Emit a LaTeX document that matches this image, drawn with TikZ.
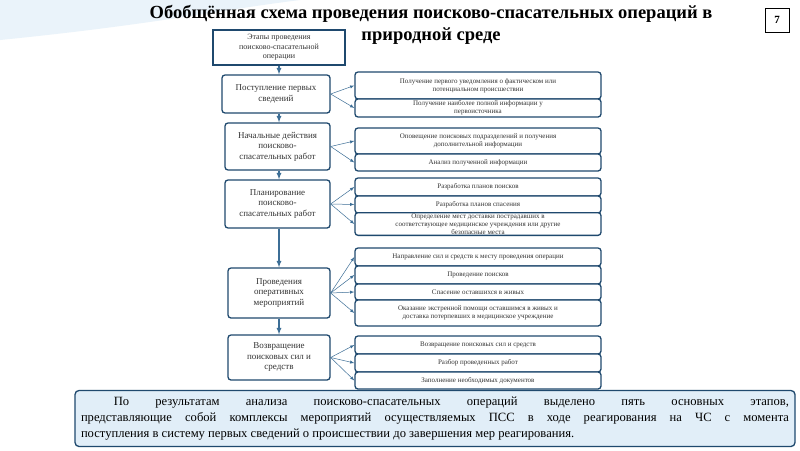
\documentclass[tikz,border=0pt]{standalone}
\usepackage{fontspec}
\setmainfont{Liberation Serif}
\begin{document}
\begin{tikzpicture}[x=1pt,y=-1pt,
  bx/.style={draw=bord,line width=1.3pt,fill=white,rounded corners=3pt,align=center,inner sep=1pt},
  lb/.style={bx,font=\fontsize{9}{10.5}\selectfont,text=black!80},
  rb/.style={bx,font=\fontsize{7}{8}\selectfont,text=black!80},
  ar/.style={draw=arr,line width=0.5pt,-latex},
  va/.style={draw=arr,line width=1.2pt,-latex}]
\definecolor{bord}{RGB}{31,73,110}
\definecolor{arr}{RGB}{60,110,150}
\definecolor{pale}{RGB}{225,238,248}
\useasboundingbox (0,0) rectangle (800,450);
\fill[white] (0,0) rectangle (800,450);
\fill[pale!70] (0,0) -- (300,0) .. controls (220,10) and (150,25) .. (0,40) -- cycle;
\node[font=\bfseries\fontsize{18.5}{20}\selectfont] (t1) at (431,14) {Обобщённая схема проведения поисково-спасательных операций в};
\node[font=\bfseries\fontsize{18.5}{20}\selectfont] (t2) at (431,36) {природной среде};
\node[draw=black,line width=1pt,minimum width=24pt,minimum height=24pt,font=\bfseries\fontsize{11}{12}\selectfont] (pg) at (777,20) {7};
% header
\node[bx,rounded corners=0pt,minimum width=132pt,minimum height=35pt,font=\fontsize{8}{9.5}\selectfont,text=black!80] (h) at (279,47.5) {Этапы проведения\\поисково-спасательной\\операции};
\node[lb,minimum width=108pt,minimum height=38pt] (a) at (276,94) {Поступление первых\\сведений};
\node[lb,minimum width=105pt,minimum height=47pt] (b) at (277.5,146.5) {Начальные действия\\поисково-\\спасательных работ};
\node[lb,minimum width=105pt,minimum height=48pt] (c) at (277.5,204) {Планирование\\поисково-\\спасательных работ};
\node[lb,minimum width=102pt,minimum height=50pt] (d) at (279,293) {Проведения\\оперативных\\мероприятий};
\node[lb,minimum width=102pt,minimum height=45pt] (e) at (279,357.5) {Возвращение\\поисковых сил и\\средств};
\draw[va] (h.south -| 279,0) -- (a.north -| 279,0);
\draw[va] (a.south -| 279,0) -- (b.north -| 279,0);
\draw[va] (b.south -| 279,0) -- (c.north -| 279,0);
\draw[va] (c.south -| 279,0) -- (d.north -| 279,0);
\draw[va] (d.south -| 279,0) -- (e.north -| 279,0);
% right
\def\rw{246pt}
\node[rb,minimum width=\rw,minimum height=27pt] (a1) at (478,85.5) {Получение первого уведомления о фактическом или\\потенциальном происшествии};
\node[rb,minimum width=\rw,minimum height=18pt] (a2) at (478,108) {Получение наиболее полной информации у\\первоисточника};
\node[rb,minimum width=\rw,minimum height=26pt] (b1) at (478,141) {Оповещение поисковых подразделений и получения\\дополнительной информации};
\node[rb,minimum width=\rw,minimum height=17pt] (b2) at (478,162.5) {Анализ полученной информации};
\node[rb,minimum width=\rw,minimum height=18pt] (c1) at (478,187) {Разработка планов поисков};
\node[rb,minimum width=\rw,minimum height=17pt] (c2) at (478,204.5) {Разработка планов спасения};
\node[rb,minimum width=\rw,minimum height=22pt] (c3) at (478,224) {Определение мест доставки пострадавших в\\соответствующее медицинское учреждения или другие\\безопасные места};
\node[rb,minimum width=\rw,minimum height=18pt] (d1) at (478,257) {Направление сил и средств к месту проведения операции};
\node[rb,minimum width=\rw,minimum height=18pt] (d2) at (478,275) {Проведение поисков};
\node[rb,minimum width=\rw,minimum height=16pt] (d3) at (478,292) {Спасение оставшихся в живых};
\node[rb,minimum width=\rw,minimum height=26pt] (d4) at (478,313) {Оказание экстренной помощи оставшимся в живых и\\доставка потерпевших в медицинское учреждение};
\node[rb,minimum width=\rw,minimum height=18pt] (e1) at (478,345) {Возвращение поисковых сил и средств};
\node[rb,minimum width=\rw,minimum height=18pt] (e2) at (478,363) {Разбор проведенных работ};
\node[rb,minimum width=\rw,minimum height=17pt] (e3) at (478,380.5) {Заполнение необходимых документов};
\foreach \s/\t in {a/a1,a/a2,b/b1,b/b2,c/c1,c/c2,c/c3,d/d1,d/d2,d/d3,d/d4,e/e1,e/e2,e/e3}
  \draw[ar] (\s.east) -- (\t.west);
% bottom
\node[draw=bord,line width=1.3pt,fill=pale,rounded corners=4pt,minimum width=720pt,minimum height=56pt,text width=708pt,align=justify,font=\fontsize{12.6}{16}\selectfont,inner sep=4pt] (f) at (435,418.5) {\hspace*{2.6em}По результатам анализа поисково-спасательных операций выделено пять основных этапов,\linebreak представляющие собой комплексы мероприятий осуществляемых ПСС в ходе реагирования на ЧС с момента\linebreak поступления в систему первых сведений о происшествии до завершения мер реагирования.};
\end{tikzpicture}
\end{document}
